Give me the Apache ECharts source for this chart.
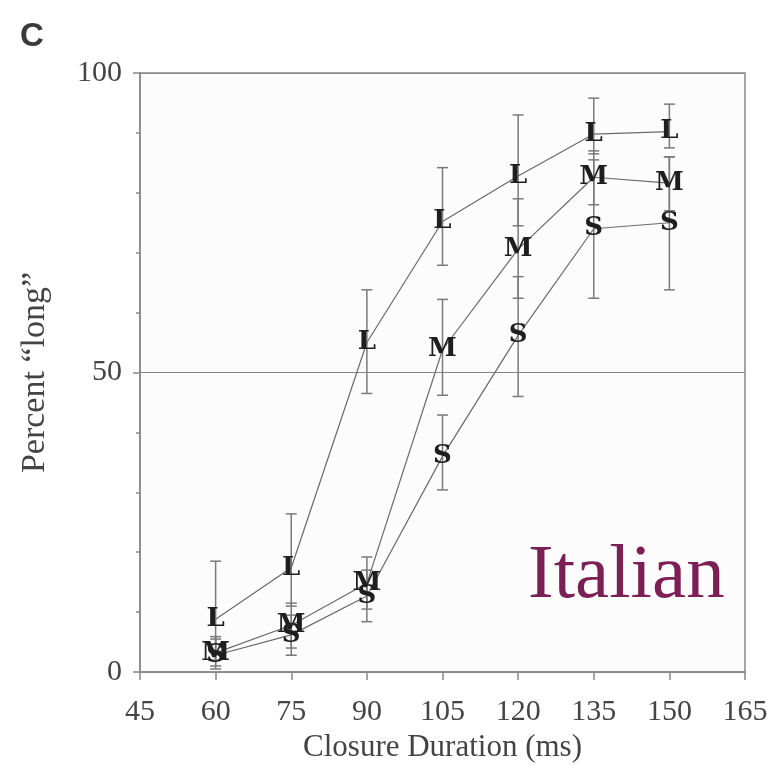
<!DOCTYPE html>
<html>
<head>
<meta charset="utf-8">
<script src="https://cdn.jsdelivr.net/npm/echarts@6/dist/echarts.min.js"></script>
<style>
  html, body { margin: 0; padding: 0; background: #fff; }
  #chartData { width: 772px; height: 765px; }
</style>
</head>
<body>
<div id="chartData"></div>
<script>
// closure durations (ms)
var durations = [60, 75, 90, 105, 120, 135, 150];

// percent "long" responses per condition
var longL = [8.8, 17.4, 55.0, 75.2, 82.8, 89.8, 90.2];
var longM = [3.2, 7.8, 14.8, 53.8, 70.6, 82.6, 81.6];
var longS = [2.8, 6.2, 12.7, 36.0, 56.2, 74.0, 75.0];

// error bar ranges [low, high]
var errL = [[2, 18.5], [11, 26.4], [46.5, 63.8], [67.9, 84.2], [74.5, 93], [86.5, 95.8], [87.5, 94.8]];
var errM = [[1, 5.9], [4, 11.5], [10.5, 19.2], [46.2, 62.2], [62.4, 79], [78, 87], [77, 86]];
var errS = [[0.5, 5.5], [2.8, 9.5], [8.4, 17], [30.4, 42.9], [46, 66], [62.4, 85.5], [63.8, 86]];

var xTicks = [45, 60, 75, 90, 105, 120, 135, 150, 165];

function pairs(vals) {
    return durations.map(function (d, i) { return [d, vals[i]]; });
}
function errData(errs) {
    return durations.map(function (d, i) { return [d, errs[i][0], errs[i][1]]; });
}

var serifFont = '"Liberation Serif", "DejaVu Serif", serif';
var barColor = '#7a7a7a';

function errSeries(name, errs) {
    return {
        name: name + ' err',
        type: 'custom',
        z: 2,
        silent: true,
        renderItem: function (params, api) {
            var x = api.value(0);
            var lo = api.coord([x, api.value(1)]);
            var hi = api.coord([x, api.value(2)]);
            var w = 5.5;
            var st = { stroke: barColor, lineWidth: 1.5 };
            return {
                type: 'group',
                children: [
                    { type: 'line', shape: { x1: lo[0], y1: lo[1], x2: hi[0], y2: hi[1] }, style: st },
                    { type: 'line', shape: { x1: lo[0] - w, y1: lo[1], x2: lo[0] + w, y2: lo[1] }, style: st },
                    { type: 'line', shape: { x1: hi[0] - w, y1: hi[1], x2: hi[0] + w, y2: hi[1] }, style: st }
                ]
            };
        },
        data: errData(errs)
    };
}

function letterSeries(letter, vals) {
    return {
        name: letter,
        type: 'line',
        z: 3,
        data: pairs(vals),
        symbol: 'rect',
        symbolSize: 2,
        showSymbol: true,
        itemStyle: { color: 'rgba(0,0,0,0)' },
        lineStyle: { color: '#6a6a6a', width: 1.2 },
        label: {
            show: true,
            position: 'inside',
            formatter: letter,
            fontFamily: '"DejaVu Serif", serif',
            fontWeight: 'bold',
            fontSize: 26,
            color: '#1e1e1e'
        },
        emphasis: { disabled: true }
    };
}

var myChart = echarts.init(document.getElementById('chartData'));

var option = {
    animation: false,
    backgroundColor: '#fff',
    title: {
        text: 'C',
        left: 15,
        top: 15,
        textStyle: {
            fontFamily: '"Liberation Sans", Arial, sans-serif',
            fontWeight: 'bold',
            fontSize: 33,
            color: '#3a3a3a'
        }
    },
    graphic: [{
        type: 'text',
        left: 528,
        top: 538,
        style: {
            text: 'Italian',
            fontFamily: serifFont,
            fontSize: 77,
            fill: '#7b1f54'
        }
    }],
    grid: {
        left: 140,
        right: 27,
        top: 73,
        bottom: 93,
        outerBoundsMode: 'none',
        containLabel: false,
        show: true,
        backgroundColor: '#fcfcfc',
        borderColor: '#888',
        borderWidth: 1.5
    },
    xAxis: {
        type: 'value',
        min: 45,
        max: 165,
        interval: 15,
        name: 'Closure Duration (ms)',
        nameLocation: 'middle',
        nameGap: 58,
        nameTextStyle: { fontFamily: serifFont, fontSize: 31, color: '#444' },
        axisLine: { show: true, onZero: false, lineStyle: { color: '#888', width: 1.5 } },
        axisTick: { show: true, length: 8, lineStyle: { color: '#888', width: 1.5 } },
        axisLabel: {
            margin: 25,
            fontFamily: serifFont,
            fontSize: 30,
            color: '#444',
            formatter: function (v) { return xTicks.indexOf(v) >= 0 ? String(v) : ''; }
        },
        splitLine: { show: false }
    },
    yAxis: {
        type: 'value',
        min: 0,
        max: 100,
        interval: 50,
        name: 'Percent “long”',
        nameLocation: 'middle',
        nameGap: 88,
        nameTextStyle: { fontFamily: serifFont, fontSize: 34, color: '#444' },
        axisLine: { show: true, lineStyle: { color: '#888', width: 1.5 } },
        axisTick: { show: true, length: 7, lineStyle: { color: '#888', width: 1.5 } },
        minorTick: { show: true, splitNumber: 5, length: 4, lineStyle: { color: '#888', width: 1.5 } },
        axisLabel: {
            margin: 18,
            fontFamily: serifFont,
            fontSize: 30,
            color: '#444'
        },
        splitLine: { show: true, lineStyle: { color: '#888', width: 1.2 } }
    },
    series: [
        errSeries('L', errL),
        errSeries('M', errM),
        errSeries('S', errS),
        letterSeries('L', longL),
        letterSeries('M', longM),
        letterSeries('S', longS)
    ]
};

myChart.setOption(option);
</script>
</body>
</html>
